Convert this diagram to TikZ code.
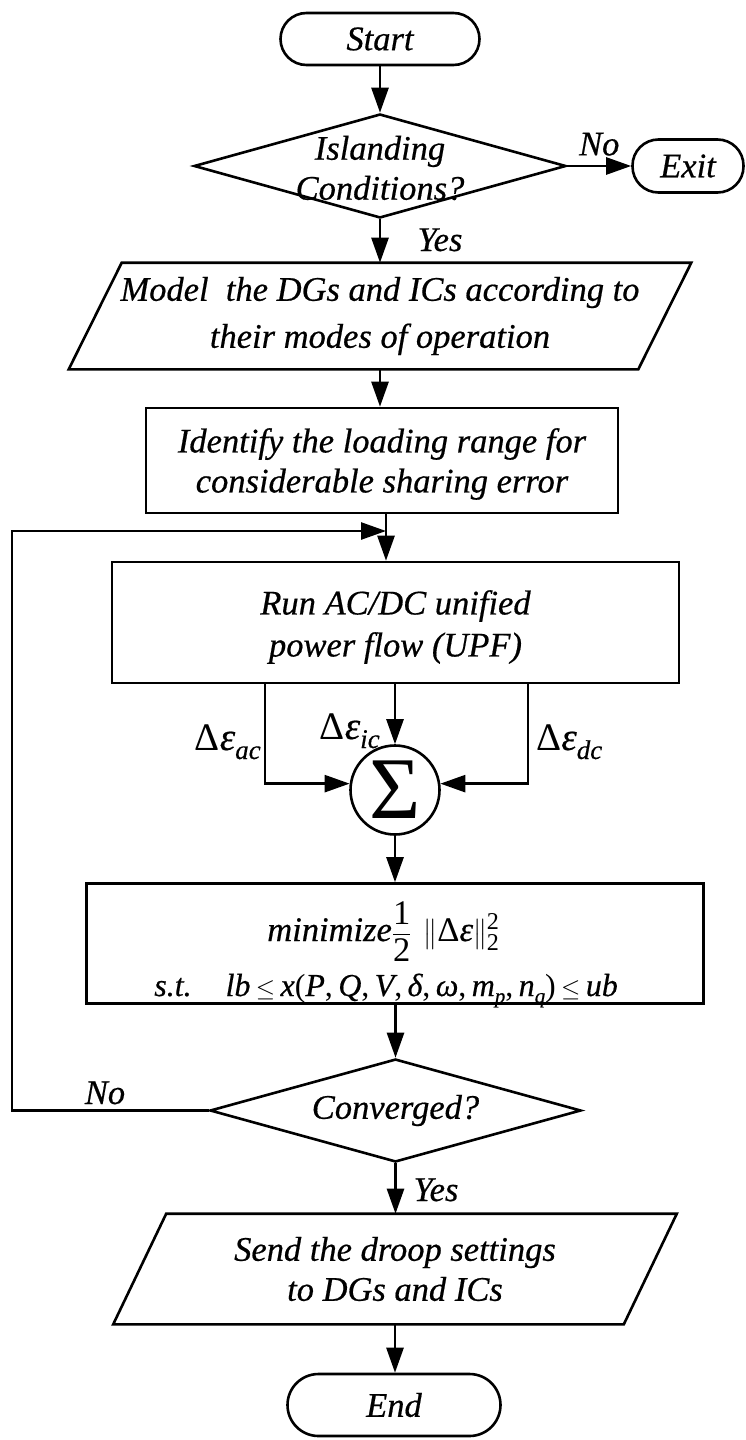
\documentclass[tikz,border=0pt]{standalone}
\usepackage{amsmath}
\usepackage{fontspec}
\setmainfont{Liberation Serif}[ItalicFeatures={FakeBold=0.5}]
\usetikzlibrary{arrows.meta,shapes.geometric,calc}

% error term label: upright Delta, italic epsilon, lowered italic index
\newcommand\errterm[1]{{\fontsize{39}{39}\selectfont{\upshape Δ}{\itshape ε}}\raisebox{-9pt}{\fontsize{27}{27}\selectfont\itshape #1}}

\begin{document}
\begin{tikzpicture}[x=1pt,y=-1pt,
  line width=2.6pt,
  txt/.style={font=\fontsize{34.5}{40}\selectfont\itshape, align=center, inner sep=0pt},
  flowarrow/.style={-{Triangle[length=25pt,width=17pt]}},
  terminal/.style={txt, draw, rectangle, rounded corners=26pt, minimum height=52pt},
  procbox/.style={txt, draw, rectangle},
  iobox/.style={txt, rectangle, draw=none},
  decision/.style={draw, diamond, inner sep=0pt},
]
\useasboundingbox (0,0) rectangle (745,1440);

% ---- nodes ----
\node[terminal, minimum width=199pt] (start) at (380,39) {Start};

\node[decision, minimum width=372pt, minimum height=104pt] (isl) at (380,166) {};
\node[txt] (isltext) at (380,168) {Islanding\\Conditions?};

\node[terminal, minimum width=111pt, minimum height=53pt] (exit) at (688,166) {Exit};

\node[iobox, minimum width=567pt, minimum height=104pt] (model) at (380,316)
  {Model\ \ the DGs and ICs according to\\[7pt]their modes of operation};
\draw ($(model.north west)+(26.5,0)$) -- ($(model.north east)+(26.5,0)$)
   -- ($(model.south east)+(-26.5,0)$) -- ($(model.south west)+(-26.5,0)$) -- cycle;

\node[procbox, minimum width=472pt, minimum height=105pt] (ident) at (382,460.5) {};
\node[txt] (identtext) at (382,464) {Identify the loading range for\\considerable sharing error};

\node[procbox, minimum width=567pt, minimum height=121pt] (run) at (395.5,622.5) {};
\node[txt] (runtext) at (395.5,627) {Run AC/DC unified\\[2pt]power flow (UPF)};

\node[draw, circle, minimum size=89pt, inner sep=0pt,
      font=\fontsize{88}{88}\selectfont] (sig) at (395,790) {Σ};

\node[procbox, minimum width=617pt, minimum height=120pt] (mini) at (395,943.5) {};
\node[txt, anchor=base west] (minline) at (266,941)
  {minimize$\dfrac{\textup{1}}{\textup{2}}$\hspace{12pt}$\bigl\|\textup{Δ}\textit{ε}\bigr\|_{\textup{2}}^{\textup{2}}$};
\node[txt, anchor=base west, font=\fontsize{32}{36}\selectfont\itshape] (stline) at (153,996)
  {s.t.\hspace{34pt}lb\,$\leq$\,x\textup{(}P\textup{,}\,Q\textup{,}\,V\textup{,}\,δ\textup{,}\,ω\textup{,}\,m\raisebox{-7pt}{\fontsize{21}{21}\selectfont p}\textup{,}\,n\raisebox{-7pt}{\fontsize{21}{21}\selectfont q}\textup{)}\,$\leq$\,ub};

\node[decision, minimum width=371pt, minimum height=103pt] (conv) at (395.5,1110.5) {};
\node[txt] (convtext) at (395.5,1110.5) {Converged?};

\node[iobox, minimum width=508pt, minimum height=104pt] (send) at (395,1269)
  {Send the droop settings\\to DGs and ICs};
\draw ($(send.north west)+(26.5,-2)$) -- ($(send.north east)+(26.5,-2)$)
   -- ($(send.south east)+(-26.5,2)$) -- ($(send.south west)+(-26.5,2)$) -- cycle;

\node[terminal, minimum width=213pt, minimum height=62pt, rounded corners=31pt] (end) at (394,1405) {End};

% ---- labels ----
\node[txt, anchor=base] (yes1) at (440,251) {Yes};
\node[txt, anchor=base] (yes2) at (436,1201) {Yes};
\node[txt, anchor=base] (no2) at (105,1104) {No};
\node[txt, anchor=base east] (lac) at (262,750) {\errterm{ac}};
\node[txt, anchor=base east] (lic) at (381,739) {\errterm{ic}};
\node[txt, anchor=base west] (ldc) at (535,750) {\errterm{dc}};

% ---- connectors ----
\coordinate (j) at (386,531);
\coordinate (loopc) at (12,1110.5);
\coordinate (acx) at (265,784);
\coordinate (dcx) at (528,784);

\draw[flowarrow] (start) -- (isl);
\draw[flowarrow] (isl.east) -- (exit.west) node[midway, above=9pt, txt] (no1) {No};
\draw[flowarrow] (isl.south) -- (model.north);
\draw[flowarrow] (model.south) -- (model.south |- ident.north);
\draw[flowarrow] (ident.south -| j) -- (run.north -| j);
\draw[flowarrow] (conv.west) -- (loopc) |- (j);
\draw[flowarrow] (run.south -| acx) |- (sig.172);
\draw[flowarrow] (run.south -| dcx) |- (sig.8);
\draw[flowarrow] (run.south -| sig) -- (sig.north);
\draw[flowarrow] (sig.south) -- (mini.north -| sig);
\draw[flowarrow] (mini.south -| conv) -- (conv.north);
\draw[flowarrow] (conv.south) -- ([yshift=2pt]send.north -| conv);
\draw[flowarrow] ([yshift=-2pt]send.south) -- (end.north -| send);
\end{tikzpicture}
\end{document}
